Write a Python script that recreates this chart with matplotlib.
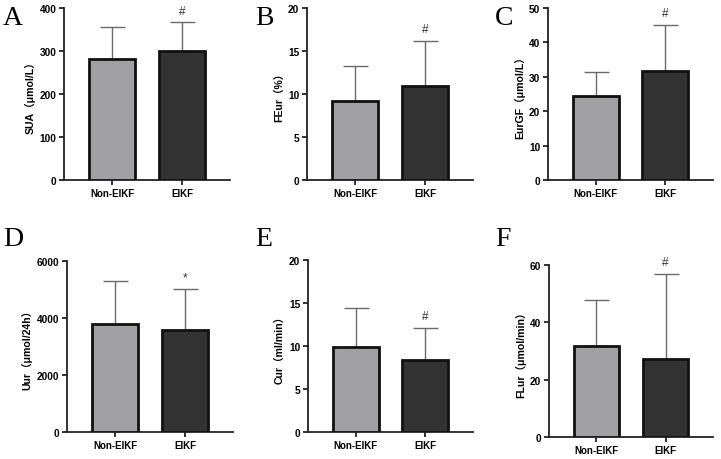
import matplotlib
matplotlib.use("Agg")
import matplotlib.pyplot as plt

groups = ["Non-EIKF", "EIKF"]
labels = ["SUA（μmol/L）", "FEur（%）", "EurGF（μmol/L）",
          "Uur（μmol/24h）", "Cur（ml/min）", "FLur（μmol/min）"]
letters = ["A", "B", "C", "D", "E", "F"]
means = [[282, 301], [9.2, 10.9], [24.3, 31.7], [3790, 3580], [9.9, 8.4], [31.7, 27.2]]
sds = [[74, 66], [4.0, 5.3], [7.0, 13.5], [1495, 1425], [4.5, 3.7], [16.0, 29.8]]
marks = ["#", "#", "#", "*", "#", "#"]
ymax = [400, 20, 50, 6000, 20, 60]
yticks = [[0, 100, 200, 300, 400], [0, 5, 10, 15, 20], [0, 10, 20, 30, 40, 50],
          [0, 2000, 4000, 6000], [0, 5, 10, 15, 20], [0, 20, 40, 60]]

W, H = 721, 460
fig = plt.figure(figsize=(W / 100, H / 100), dpi=100)

# axes boxes in pixels: left, right, top, bottom
boxes = [(64, 230, 9, 181), (307, 473, 9, 181), (548, 713, 9, 181),
         (67, 233, 262, 433), (308, 473, 261, 433), (549, 713, 266, 438)]
letter_pos = [(3, 25), (255, 25), (495, 25), (3, 246), (255, 246), (495, 246)]

fam = ["Liberation Sans", "Noto Sans CJK SC", "DejaVu Sans"]
colors = ["#a1a1a5", "#333333"]

for i in range(6):
    l, r, t, b = boxes[i]
    ax = fig.add_axes([l / W, 1 - b / H, (r - l) / W, (b - t) / H])
    x = [0, 1]
    ax.bar(x, means[i], width=0.66, color=colors, edgecolor="#111111",
           linewidth=2.0, zorder=3)
    ax.errorbar(x, means[i], yerr=[[0, 0], sds[i]], fmt="none",
                ecolor="#6a6a6a", elinewidth=1.0, capsize=9, capthick=1.0,
                zorder=2)
    ax.set_xlim(-0.686, 1.686)
    ax.set_ylim(0, ymax[i])
    ax.set_yticks(yticks[i])
    ax.set_yticklabels([str(v) for v in yticks[i]], fontsize=7.3,
                       fontweight="bold", family=fam)
    ax.set_xticks(x)
    ax.set_xticklabels(groups, fontsize=7.0, fontweight="bold", family=fam)
    ax.spines["top"].set_visible(False)
    ax.spines["right"].set_visible(False)
    for s in ["left", "bottom"]:
        ax.spines[s].set_linewidth(1.3)
        ax.spines[s].set_color("#222222")
    ax.tick_params(axis="both", width=1.3, length=3.5, color="#222222",
                   pad=2)
    ax.set_ylabel(labels[i], fontsize=7.6, fontweight="bold", family=fam,
                  labelpad=3)
    top = means[i][1] + sds[i][1]
    ax.annotate(marks[i], (1, top), xytext=(0, 4), textcoords="offset points",
                ha="center", va="bottom", fontsize=8.5, color="#333333",
                family=fam)
    lx, ly = letter_pos[i]
    fig.text(lx / W, 1 - ly / H, letters[i], fontsize=20,
             family=["Liberation Serif"], ha="left", va="baseline")

fig.savefig("out.png", dpi=100)
